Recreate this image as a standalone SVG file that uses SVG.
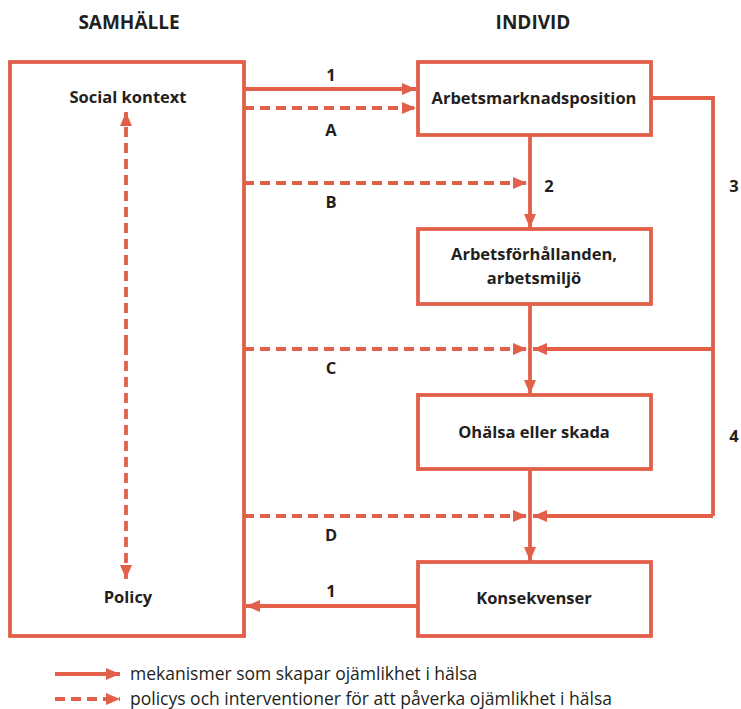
<svg xmlns="http://www.w3.org/2000/svg" width="741" height="709" viewBox="0 0 741 709">
<defs>
<marker id="ah" viewBox="0 0 14 12" refX="14" refY="6" markerWidth="14" markerHeight="12" markerUnits="userSpaceOnUse" orient="auto">
<path d="M0,0 L14,6 L0,12 Z" fill="#e2604a"/>
</marker>
<style>
.box{fill:#fff;stroke:#e2604a;stroke-width:3.8}
.ln{fill:none;stroke:#e2604a;stroke-width:3.8}
.sol{fill:none;stroke:#e2604a;stroke-width:3.8;marker-end:url(#ah)}
.dash{fill:none;stroke:#e2604a;stroke-width:3.8;stroke-dasharray:10 6;marker-end:url(#ah)}
.t{font-family:"Open Sans","Liberation Sans",sans-serif;font-weight:700;font-size:16.5px;fill:#231f20;text-anchor:middle}
.h{font-family:"Open Sans","Liberation Sans",sans-serif;font-weight:700;font-size:19px;fill:#231f20;text-anchor:middle}
.lg{font-family:"Open Sans","Liberation Sans",sans-serif;font-size:17.5px;fill:#231f20}
</style>
</defs>
<text class="h" x="129" y="29">SAMHÄLLE</text>
<text class="h" x="533" y="29">INDIVID</text>
<g id="samhalle">
<rect class="box" x="10" y="62" width="234" height="574"/>
<text class="t" x="128" y="103">Social kontext</text>
<text class="t" x="128" y="603">Policy</text>
</g>
<g id="arbetsmarknadsposition">
<rect class="box" x="418" y="62" width="233" height="73"/>
<text class="t" x="534" y="104">Arbetsmarknadsposition</text>
</g>
<g id="arbetsforhallanden">
<rect class="box" x="418" y="229" width="233" height="75"/>
<text class="t" x="534" y="260">Arbetsförhållanden,</text>
<text class="t" x="534" y="284">arbetsmiljö</text>
</g>
<g id="ohalsa">
<rect class="box" x="418" y="395" width="233" height="74"/>
<text class="t" x="534" y="438">Ohälsa eller skada</text>
</g>
<g id="konsekvenser">
<rect class="box" x="418" y="562" width="233" height="74"/>
<text class="t" x="534" y="604">Konsekvenser</text>
</g>
<g id="connectors">
<line class="sol" x1="244" y1="89" x2="416" y2="89"/>
<line class="dash" x1="244" y1="108" x2="416" y2="108"/>
<line class="dash" x1="244" y1="183" x2="527" y2="183"/>
<line class="dash" x1="244" y1="349" x2="527" y2="349"/>
<line class="dash" x1="244" y1="516" x2="527" y2="516"/>
<line class="sol" x1="530" y1="135" x2="530" y2="228"/>
<line class="sol" x1="530" y1="304" x2="530" y2="394"/>
<line class="sol" x1="530" y1="469" x2="530" y2="561"/>
<polyline class="ln" points="651,98 713,98 713,516"/>
<line class="sol" x1="713" y1="349" x2="533" y2="349"/>
<line class="sol" x1="713" y1="516" x2="533" y2="516"/>
<line class="sol" x1="418" y1="606" x2="246" y2="606"/>
<line class="dash" x1="126" y1="345" x2="126" y2="112"/>
<line class="dash" x1="126" y1="345" x2="126" y2="579"/>
<text class="t" x="331" y="81">1</text>
<text class="t" x="331" y="136">A</text>
<text class="t" x="331" y="208">B</text>
<text class="t" x="331" y="374">C</text>
<text class="t" x="331" y="541">D</text>
<text class="t" x="331" y="597">1</text>
<text class="t" x="549" y="192">2</text>
<text class="t" x="734" y="192">3</text>
<text class="t" x="734" y="442">4</text>
</g>
<g id="legend">
<line class="sol" x1="55" y1="674" x2="120" y2="674"/>
<line class="dash" x1="55" y1="699" x2="120" y2="699"/>
<text class="lg" x="130" y="680">mekanismer som skapar ojämlikhet i hälsa</text>
<text class="lg" x="130" y="705">policys och interventioner för att påverka ojämlikhet i hälsa</text>
</g>
</svg>
